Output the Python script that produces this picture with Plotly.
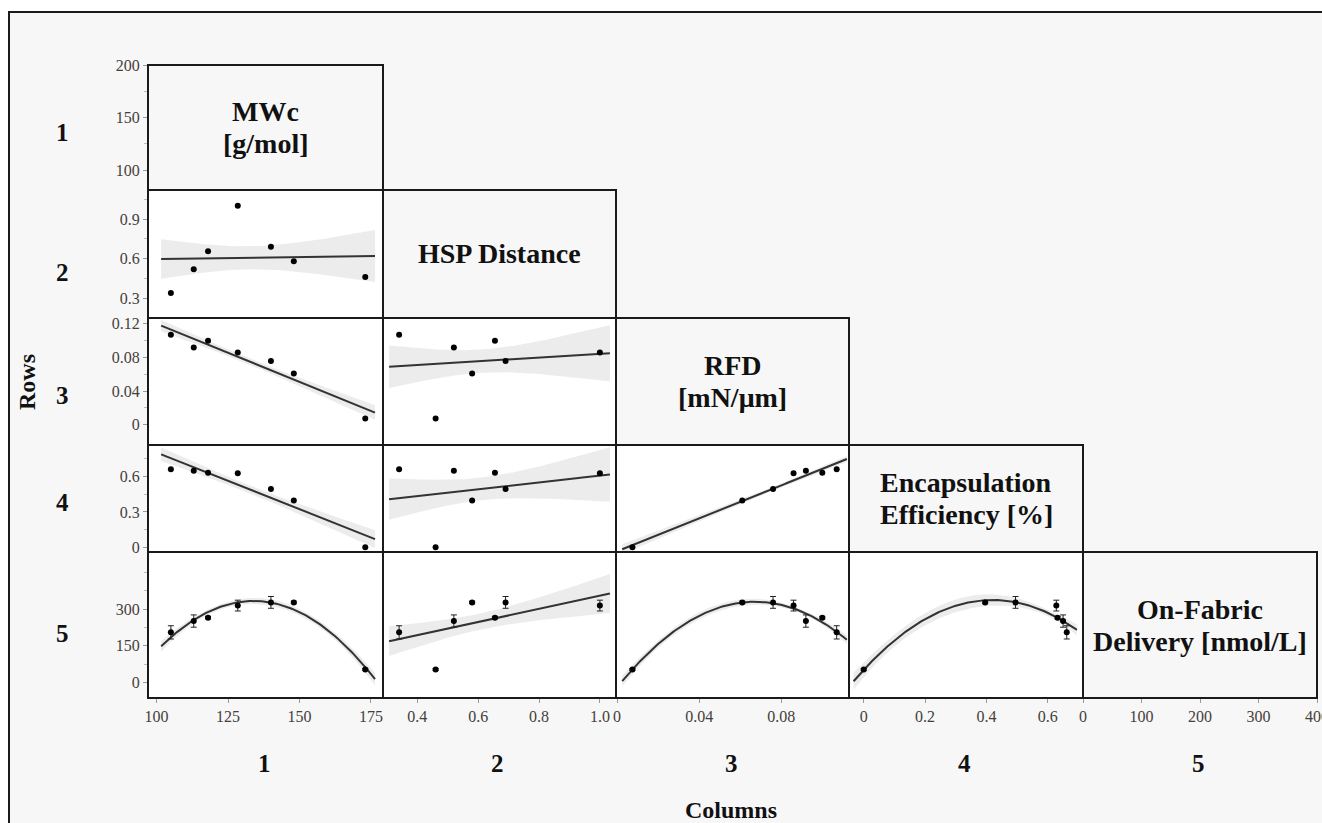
import numpy as np
import plotly.graph_objects as go

W, H = 1322, 823
OFF = 0  # body margin removed in the page (see write_html below)

# ---------------- data ----------------
var_labels = [["MWc", "[g/mol]"], ["HSP Distance"], ["RFD", "[mN/μm]"],
              ["Encapsulation", "Efficiency [%]"], ["On-Fabric", "Delivery [nmol/L]"]]
mwc = [105, 113, 118, 128.4, 140, 148, 173]
hsp = [0.34, 0.52, 0.655, 1.0, 0.69, 0.58, 0.46]
rfd = [0.107, 0.092, 0.100, 0.086, 0.076, 0.061, 0.0075]
ee = [0.662, 0.650, 0.632, 0.628, 0.495, 0.396, 0.0]
ofd = [205, 251, 265, 314, 327, 327, 54]
ofd_err = [27, 25, 5, 22, 24, 5, 4]

row_names = ["1", "2", "3", "4", "5"]
col_names = ["1", "2", "3", "4", "5"]

x_tickvals = [[100, 125, 150, 175], [0.4, 0.6, 0.8, 1.0], [0, 0.04, 0.08],
              [0, 0.2, 0.4, 0.6], [0, 100, 200, 300, 400]]
x_ticktext = [["100", "125", "150", "175"], ["0.4", "0.6", "0.8", "1.0"], ["0", "0.04", "0.08"],
              ["0", "0.2", "0.4", "0.6"], ["0", "100", "200", "300", "400"]]
y_tickvals = [[100, 150, 200], [0.3, 0.6, 0.9], [0, 0.04, 0.08, 0.12], [0, 0.3, 0.6], [0, 150, 300]]
y_ticktext = [["100", "150", "200"], ["0.3", "0.6", "0.9"], ["0", "0.04", "0.08", "0.12"],
              ["0", "0.3", "0.6"], ["0", "150", "300"]]
y_minor = [[125, 175], [0.45, 0.75, 1.05], [0.02, 0.06, 0.10], [0.15, 0.45, 0.75], [75, 225, 375, 450]]

variables = [mwc, hsp, rfd, ee, ofd]
# quadratic fits for OFD vs MWc, RFD, EE
quad_pairs = {(4, 0), (4, 2), (4, 3)}

# ---------------- layout geometry (page pixels) ----------------
col_px = [148, 383, 616, 849, 1083, 1317]
row_px = [65, 190, 318, 445, 552, 698]
x_ranges = [[97, 179.2], [0.287, 1.053], [-0.0005, 0.113], [-0.048, 0.715], [0, 400]]
y_ranges = [[81, 200], [0.15, 1.12], [-0.024, 0.127], [-0.040, 0.868], [-62, 532]]

FONT = "Liberation Serif"
TICKFONT = dict(family=FONT, size=16, color="#45403a")


def px(x):
    return (x - OFF) / W


def py(y):
    return 1 - (y - OFF) / H


def fit_curve(x, y, deg, mult=1.0, n=120):
    x = np.asarray(x, float)
    y = np.asarray(y, float)
    X = np.vander(x, deg + 1)
    coef, *_ = np.linalg.lstsq(X, y, rcond=None)
    resid = y - X @ coef
    dof = len(x) - deg - 1
    s2 = (resid ** 2).sum() / dof
    cov = s2 * np.linalg.inv(X.T @ X)
    lo, hi = x.min(), x.max()
    pad = 0.05 * (hi - lo)
    xs = np.linspace(lo - pad, hi + pad, n)
    Xs = np.vander(xs, deg + 1)
    ys = Xs @ coef
    se = np.sqrt(np.einsum("ij,jk,ik->i", Xs, cov, Xs))
    return xs, ys, ys - mult * se, ys + mult * se


def ann(x, y, text, size, angle=0):
    return dict(x=px(x), y=py(y), xref="paper", yref="paper", text=text, showarrow=False,
                xanchor="center", yanchor="middle", align="center", textangle=angle,
                font=dict(family=FONT, size=size, color="#111"))


fig = go.Figure()
layout = {}
shapes = []
annotations = []

# outer frame / background
shapes.append(dict(type="rect", xref="paper", yref="paper", x0=px(9), x1=px(1345), y0=py(12), y1=py(850),
                   fillcolor="#f7f7f7", line=dict(color="#1a1a1a", width=2), layer="below"))

k = 0
for r in range(5):
    for c in range(5):
        if r < c:
            continue
        x0, x1 = col_px[c], col_px[c + 1]
        y0, y1 = row_px[r], row_px[r + 1]
        if r > c:
            shapes.append(dict(type="rect", xref="paper", yref="paper", x0=px(x0), x1=px(x1),
                               y0=py(y1), y1=py(y0), fillcolor="white", line=dict(width=0), layer="below"))
        shapes.append(dict(type="rect", xref="paper", yref="paper", x0=px(x0), x1=px(x1),
                           y0=py(y1), y1=py(y0), fillcolor="rgba(0,0,0,0)",
                           line=dict(color="#1a1a1a", width=2), layer="above"))
        if r == c:
            lines = var_labels[r]
            yc = (y0 + y1) / 2
            n = len(lines)
            for i, t in enumerate(lines):
                annotations.append(ann((x0 + x1) / 2, yc + (i - (n - 1) / 2) * 32, f"<b>{t}</b>", 28))
        need_axis = (r > c) or (r == 0 and c == 0) or (r == 4 and c == 4)
        if not need_axis:
            continue
        k += 1
        xa = "xaxis" if k == 1 else f"xaxis{k}"
        ya = "yaxis" if k == 1 else f"yaxis{k}"
        xr = "x" if k == 1 else f"x{k}"
        yr = "y" if k == 1 else f"y{k}"
        show_x = (r == 4)
        show_y = (c == 0)
        layout[xa] = dict(domain=[px(x0), px(x1)], anchor=yr, range=x_ranges[c], automargin=False,
                          showgrid=False, zeroline=False, showline=False,
                          tickmode="array", tickvals=x_tickvals[c], ticktext=x_ticktext[c],
                          showticklabels=show_x, ticks="outside" if show_x else "",
                          ticklabeloverflow="allow",
                          ticklen=4, tickcolor="#999", tickfont=TICKFONT, fixedrange=True)
        yax = dict(domain=[py(y1), py(y0)], anchor=xr, range=y_ranges[r], automargin=False,
                   showgrid=False, zeroline=False, showline=False,
                   tickmode="array", tickvals=y_tickvals[r], ticktext=y_ticktext[r],
                   showticklabels=show_y, ticks="outside" if show_y else "",
                   ticklabeloverflow="allow",
                   ticklen=4, tickcolor="#999", tickfont=TICKFONT, fixedrange=True)
        if show_y:
            yax["minor"] = dict(tickmode="array", tickvals=y_minor[r], ticks="outside",
                                ticklen=3, tickcolor="#bbb", showgrid=False)
        layout[ya] = yax
        if r == c:
            fig.add_trace(go.Scatter(x=[None], y=[None], xaxis=xr, yaxis=yr, showlegend=False))
            continue
        xv = variables[c]
        yv = variables[r]
        deg = 2 if (r, c) in quad_pairs else 1
        xs, ys, lo, hi = fit_curve(xv, yv, deg)
        fig.add_trace(go.Scatter(x=np.concatenate([xs, xs[::-1]]), y=np.concatenate([hi, lo[::-1]]),
                                 fill="toself", fillcolor="rgba(200,200,200,0.35)", line=dict(width=0),
                                 mode="lines", hoverinfo="skip", showlegend=False, xaxis=xr, yaxis=yr))
        fig.add_trace(go.Scatter(x=xs, y=ys, mode="lines", line=dict(color="#333", width=2),
                                 showlegend=False, xaxis=xr, yaxis=yr))
        err = dict(type="data", array=ofd_err, color="#222", thickness=1, width=3, visible=True) if r == 4 else None
        fig.add_trace(go.Scatter(x=xv, y=yv, mode="markers", marker=dict(color="black", size=6),
                                 error_y=err, showlegend=False, xaxis=xr, yaxis=yr, cliponaxis=False))

# row / column labels
row_centers = [132, 272, 395, 502, 633]
for name, yc in zip(row_names, row_centers):
    annotations.append(ann(62, yc, f"<b>{name}</b>", 25))
col_centers = [264, 497, 731, 964, 1198]
for name, xc in zip(col_names, col_centers):
    annotations.append(ann(xc, 763, f"<b>{name}</b>", 25))
annotations.append(ann(27, 382, "<b>Rows</b>", 24, angle=-90))
annotations.append(ann(731, 810, "<b>Columns</b>", 24))

fig.update_layout(width=W, height=H, margin=dict(l=0, r=0, t=0, b=0),
                  paper_bgcolor="white", plot_bgcolor="rgba(0,0,0,0)",
                  shapes=shapes, annotations=annotations, showlegend=False, **layout)

fig.write_html("out.html", config={"displayModeBar": False},
               post_script="document.body.style.margin='0';document.body.style.overflow='hidden';")
